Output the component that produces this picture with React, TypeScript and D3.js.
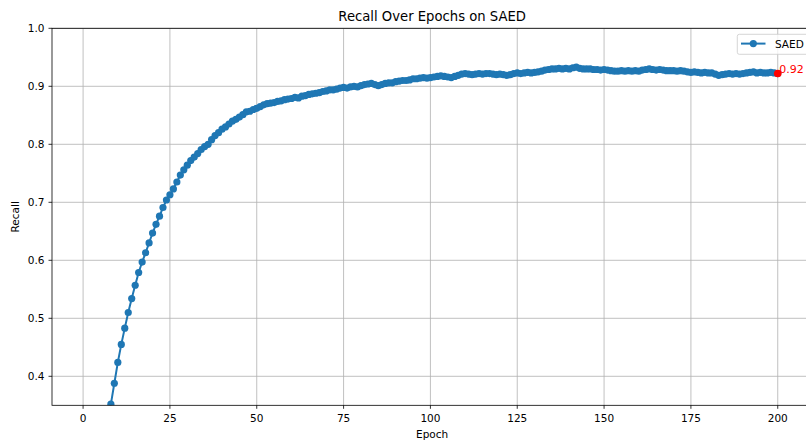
import React, { useEffect } from "react";
import * as d3 from "d3";

const epochs: number[] = Array.from({ length: 200 }, (_, i) => i + 1);
const recall: number[] = [
  0.08, 0.12, 0.165, 0.21, 0.25, 0.285, 0.318, 0.352, 0.388, 0.424,
  0.455, 0.483, 0.510, 0.534, 0.557, 0.579, 0.597, 0.613, 0.630, 0.647,
  0.662, 0.676, 0.691, 0.704, 0.713, 0.723, 0.735, 0.747, 0.756, 0.764,
  0.772, 0.778, 0.784, 0.791, 0.796, 0.800, 0.808, 0.815, 0.820, 0.826,
  0.830, 0.835, 0.840, 0.843, 0.847, 0.851, 0.856, 0.857, 0.860, 0.862,
  0.865, 0.868, 0.870, 0.871, 0.872, 0.874, 0.875, 0.877, 0.878, 0.879,
  0.881, 0.880, 0.883, 0.884, 0.886, 0.887, 0.888, 0.889, 0.891, 0.892,
  0.894, 0.894, 0.895, 0.897, 0.898, 0.897, 0.899, 0.900, 0.899, 0.901,
  0.903, 0.904, 0.905, 0.903, 0.901, 0.903, 0.905, 0.906, 0.906, 0.908,
  0.909, 0.910, 0.910, 0.911, 0.913, 0.913, 0.914, 0.915, 0.914, 0.915,
  0.916, 0.917, 0.918, 0.917, 0.916, 0.915, 0.917, 0.919, 0.921, 0.922,
  0.921, 0.920, 0.921, 0.922, 0.921, 0.922, 0.922, 0.921, 0.920, 0.921,
  0.920, 0.919, 0.920, 0.922, 0.923, 0.922, 0.923, 0.924, 0.923, 0.924,
  0.925, 0.926, 0.928, 0.929, 0.930, 0.930, 0.931, 0.930, 0.931, 0.930,
  0.932, 0.933, 0.931, 0.930, 0.930, 0.930, 0.929, 0.929, 0.928, 0.929,
  0.928, 0.927, 0.926, 0.926, 0.927, 0.926, 0.927, 0.926, 0.927, 0.926,
  0.928, 0.929, 0.930, 0.929, 0.928, 0.929, 0.928, 0.927, 0.927, 0.927,
  0.926, 0.927, 0.926, 0.925, 0.924, 0.925, 0.924, 0.923, 0.924, 0.923,
  0.923, 0.921, 0.919, 0.920, 0.921, 0.922, 0.921, 0.922, 0.921, 0.922,
  0.923, 0.924, 0.925, 0.923, 0.924, 0.923, 0.923, 0.924, 0.923, 0.922,
];
const xTicks: number[] = [0, 25, 50, 75, 100, 125, 150, 175, 200];
const yTicks: number[] = [0.4, 0.5, 0.6, 0.7, 0.8, 0.9, 1.0];
const seriesName = "SAED";
const title = "Recall Over Epochs on SAED";

const W = 806;
const H = 443;
const left = 52;
const right = 812.3;
const top = 28.3;
const bottom = 405.3;
const blue = "#1f77b4";
const font = "DejaVu Sans, sans-serif";
const fs = 10.5;

export default function App() {
  useEffect(() => {
    document.body.style.margin = "0";
  }, []);

  const x = d3.scaleLinear().domain([-8.95, 209.95]).range([left, right]);
  const y = d3.scaleLinear().domain([0.35, 1.0]).range([bottom, top]);
  const pts = epochs.map((e, i) => [e, recall[i]] as [number, number]);
  const line = d3
    .line<[number, number]>()
    .x((d) => x(d[0]))
    .y((d) => y(d[1]));
  const last = pts[pts.length - 1];

  return (
    <svg
      width={W}
      height={H}
      style={{ position: "absolute", left: 0, top: 0, background: "#fff" }}
      fontFamily={font}
    >
      <defs>
        <clipPath id="plot">
          <rect x={left} y={top} width={right - left} height={bottom - top} />
        </clipPath>
      </defs>
      <rect x={0} y={0} width={W} height={H} fill="#fff" />
      {/* grid */}
      <g stroke="#b0b0b0" strokeWidth={0.8}>
        {xTicks.map((t) => (
          <line key={"gx" + t} x1={x(t)} x2={x(t)} y1={top} y2={bottom} />
        ))}
        {yTicks.map((t) => (
          <line key={"gy" + t} x1={left} x2={right} y1={y(t)} y2={y(t)} />
        ))}
      </g>
      {/* series */}
      <g clipPath="url(#plot)">
        <path d={line(pts) || ""} fill="none" stroke={blue} strokeWidth={2} />
        {pts.map((p, i) => (
          <circle key={i} cx={x(p[0])} cy={y(p[1])} r={3.6} fill={blue} />
        ))}
        <circle cx={x(last[0])} cy={y(last[1])} r={3.8} fill="red" />
      </g>
      <text
        x={x(last[0]) + 1.5}
        y={y(last[1]) - 1}
        fontSize={11}
        fill="red"
      >
        {last[1].toFixed(2)}
      </text>
      {/* spines */}
      <g stroke="#000" strokeWidth={0.8} fill="none">
        <rect x={left} y={top} width={right - left} height={bottom - top} />
      </g>
      {/* x ticks */}
      <g fontSize={fs} fill="#000" textAnchor="middle">
        {xTicks.map((t) => (
          <g key={"xt" + t}>
            <line x1={x(t)} x2={x(t)} y1={bottom} y2={bottom + 3.5} stroke="#000" strokeWidth={0.8} />
            <text x={x(t)} y={bottom + 17}>
              {t}
            </text>
          </g>
        ))}
      </g>
      {/* y ticks */}
      <g fontSize={fs} fill="#000" textAnchor="end">
        {yTicks.map((t) => (
          <g key={"yt" + t}>
            <line x1={left - 3.5} x2={left} y1={y(t)} y2={y(t)} stroke="#000" strokeWidth={0.8} />
            <text x={left - 7.5} y={y(t) + 3.8}>
              {t.toFixed(1)}
            </text>
          </g>
        ))}
      </g>
      {/* axis labels */}
      <text x={(left + right) / 2} y={437.5} fontSize={fs} textAnchor="middle">
        Epoch
      </text>
      <text
        transform={`translate(19,${(top + bottom) / 2}) rotate(-90)`}
        fontSize={fs}
        textAnchor="middle"
      >
        Recall
      </text>
      <text x={(left + right) / 2} y={20.5} fontSize={13.2} textAnchor="middle">
        {title}
      </text>
      {/* legend */}
      <g>
        <rect
          x={737.3}
          y={34.3}
          width={72}
          height={20}
          rx={2}
          fill="#fff"
          fillOpacity={0.8}
          stroke="#cccccc"
          strokeWidth={0.8}
        />
        <line x1={741} x2={765.5} y1={43.6} y2={43.6} stroke={blue} strokeWidth={2} />
        <circle cx={753.3} cy={43.6} r={3.6} fill={blue} />
        <text x={775} y={47.5} fontSize={fs}>
          {seriesName}
        </text>
      </g>
    </svg>
  );
}
